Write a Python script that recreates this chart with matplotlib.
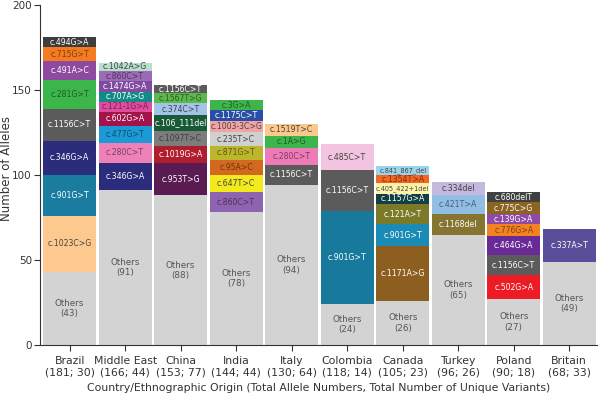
import matplotlib
matplotlib.use("Agg")
import matplotlib.pyplot as plt
from matplotlib.colors import to_rgb

countries = ["Brazil", "Middle East", "China", "India", "Italy",
             "Colombia", "Canada", "Turkey", "Poland", "Britain"]
total_alleles = [181, 166, 153, 144, 130, 118, 105, 96, 90, 68]
unique_variants = [30, 44, 77, 44, 64, 14, 23, 26, 18, 33]
others = [43, 91, 88, 78, 94, 24, 26, 65, 27, 49]

# variants stacked above "Others", bottom to top
brazil_var = ["c.1023C>G", "c.901G>T", "c.346G>A", "c.1156C>T", "c.281G>T",
              "c.491A>C", "c.715G>T", "c.494G>A"]
brazil_n = [33, 24, 20, 19, 17, 11, 8, 6]
mideast_var = ["c.346G>A", "c.280C>T", "c.477G>T", "c.602G>A", "c.121-1G>A",
               "c.707A>G", "c.1474G>A", "c.860C>T", "c.1042A>G"]
mideast_n = [16, 12, 10, 8, 6, 6, 6, 6, 5]
china_var = ["c.953T>G", "c.1019G>A", "c.1097T>C", "c.106_111del", "c.374C>T",
             "c.1567T>G", "c.1156C>T"]
china_n = [19, 10, 9, 9, 7, 6, 5]
india_var = ["c.860C>T", "c.647T>C", "c.95A>C", "c.871G>T", "c.235T>C",
             "c.1003-3C>G", "c.1175C>T", "c.3G>A"]
india_n = [12, 10, 9, 8, 8, 7, 6, 6]
italy_var = ["c.1156C>T", "c.280C>T", "c.1A>G", "c.1519T>C"]
italy_n = [12, 10, 7, 7]
colombia_var = ["c.901G>T", "c.1156C>T", "c.485C>T"]
colombia_n = [55, 24, 15]
canada_var = ["c.1171A>G", "c.901G>T", "c.121A>T", "c.1157G>A",
              "c.405_422+1del", "c.1354T>A", "c.841_867_del"]
canada_n = [32, 13, 12, 6, 6, 5, 5]
turkey_var = ["c.1168del", "c.421T>A", "c.334del"]
turkey_n = [12, 11, 8]
poland_var = ["c.502G>A", "c.1156C>T", "c.464G>A", "c.776G>A", "c.139G>A",
              "c.775C>G", "c.680delT"]
poland_n = [14, 12, 11, 7, 6, 7, 6]
britain_var = ["c.337A>T"]
britain_n = [19]

variants = [brazil_var, mideast_var, china_var, india_var, italy_var,
            colombia_var, canada_var, turkey_var, poland_var, britain_var]
counts = [brazil_n, mideast_n, china_n, india_n, italy_n,
          colombia_n, canada_n, turkey_n, poland_n, britain_n]

# segment colours
colors = [
    ["#fdc98f", "#1a7c9e", "#2b2c7c", "#5b5b5b", "#3cb54b", "#8e4a9e", "#f47b20", "#3d3d3d"],
    ["#2b2c7c", "#ee82b8", "#1b9ad6", "#a3144a", "#e04b9d", "#138a85", "#7e4ba0", "#9b6bb5", "#b7dfcc"],
    ["#5a1a52", "#b01e2e", "#7c7c7c", "#195a36", "#a3c4e8", "#5bb84a", "#5b5b5b"],
    ["#8e64b0", "#f2ea1d", "#d2691e", "#bdb52a", "#d0d0d0", "#f4a3a3", "#2a4ea6", "#3db54a"],
    ["#5b5b5b", "#ee7bb8", "#3cb54b", "#fcc88c"],
    ["#17799b", "#5b5b5b", "#f2c4e0"],
    ["#8c5e20", "#1a8bb5", "#7a7a28", "#123f44", "#fdf3a8", "#f26522", "#9ad3ee"],
    ["#857530", "#92bde4", "#c4b8de"],
    ["#ed1c24", "#5b5b5b", "#6a2a96", "#f58220", "#8f4aa6", "#8a6420", "#404040"],
    ["#5a4e9a"],
]
others_color = "#d3d3d3"


def text_color(c):
    r, g, b = to_rgb(c)
    lum = 0.299 * r + 0.587 * g + 0.114 * b
    if lum > 0.72:
        return "#444444"
    if lum < 0.45:
        return "white"
    return (r * 0.5, g * 0.5, b * 0.5)


fig = plt.figure(figsize=(6, 3.99), dpi=100)
ax = fig.add_axes([0.067, 0.135, 0.928, 0.853])

width = 0.95
for i, country in enumerate(countries):
    ax.bar(i, others[i], width=width, color=others_color, linewidth=0)
    ax.text(i, others[i] / 2, f"Others\n({others[i]})", ha="center", va="center",
            fontsize=6.3, color="#555555")
    bottom = others[i]
    for lab, n, c in zip(variants[i], counts[i], colors[i]):
        ax.bar(i, n, width=width, bottom=bottom, color=c, linewidth=0)
        fs = 5.6 if len(lab) < 13 else 4.7
        ax.text(i, bottom + n / 2, lab, ha="center", va="center",
                fontsize=fs, color=text_color(c), clip_on=True)
        bottom += n

ax.set_xlim(-0.53, 9.5)
ax.set_ylim(0, 200)
ax.set_yticks([0, 50, 100, 150, 200])
ax.set_xticks(range(len(countries)))
ax.set_xticklabels([f"{c}\n({t}; {u})" for c, t, u in
                    zip(countries, total_alleles, unique_variants)],
                   fontsize=7.8, color="#333333")
ax.tick_params(axis="y", labelsize=7.5, colors="#333333", pad=2)
ax.tick_params(direction="out", length=4, width=0.8, color="#333333")
for s in ["top", "right"]:
    ax.spines[s].set_visible(False)
ax.spines["left"].set_color("#333333")
ax.spines["bottom"].set_color("#333333")
ax.set_ylabel("Number of Alleles", fontsize=8.5, color="#333333")
ax.yaxis.set_label_coords(-0.049, 0.52)
ax.set_xlabel("Country/Ethnographic Origin (Total Allele Numbers, Total Number of Unique Variants)",
              fontsize=7.8, color="#333333", labelpad=4)

fig.savefig("out.png", dpi=100)
